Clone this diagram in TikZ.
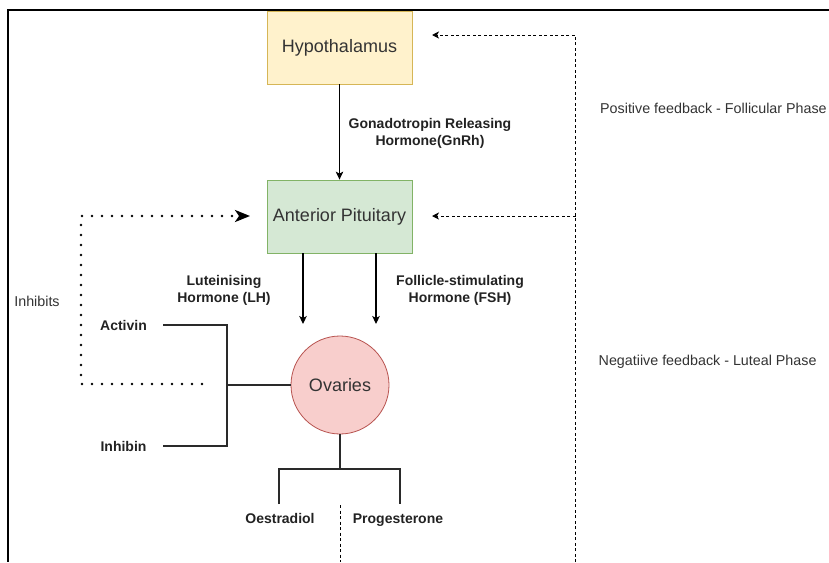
\documentclass[tikz,border=0pt]{standalone}
\usepackage{fontspec}
\setmainfont{Liberation Sans}
\usetikzlibrary{arrows.meta,calc}
\definecolor{hypfill}{HTML}{FFF2CC}
\definecolor{hypdraw}{HTML}{D6B656}
\definecolor{antfill}{HTML}{D5E8D4}
\definecolor{antdraw}{HTML}{82B366}
\definecolor{ovafill}{HTML}{F8CECC}
\definecolor{ovadraw}{HTML}{B85450}
\definecolor{txt}{HTML}{333333}
\definecolor{btxt}{HTML}{222222}
\definecolor{brkcol}{HTML}{2A2A2A}
\tikzset{
  box/.style={rectangle, minimum width=145pt, minimum height=73pt, inner sep=0pt,
    line width=0.8pt, text=txt, text height=13pt, text depth=4pt, font=\fontsize{18}{21}\selectfont},
  ovabox/.style={circle, minimum size=98pt, inner sep=0pt, line width=0.8pt,
    fill=ovafill, draw=ovadraw, text=txt, font=\fontsize{18}{21}\selectfont},
  blabel/.style={inner sep=0pt, align=center, text=btxt, font=\bfseries\fontsize{14}{17}\selectfont},
  rlabel/.style={inner sep=0pt, text=txt, font=\fontsize{14.3}{17}\selectfont},
  arr/.style={line width=1.1pt, draw=black, -{Stealth[length=8pt,width=7.5pt,inset=2pt]}},
  brk/.style={line width=2.4pt, draw=brkcol},
  fb/.style={line width=0.9pt, draw=black, dash pattern=on 3pt off 2.5pt},
  fbarr/.style={fb, -{Stealth[length=7pt,width=7pt,inset=2pt]}},
  inh/.style={line width=2.6pt, draw=black, line cap=round, dash pattern=on 0pt off 10pt,
    -{Stealth[length=15pt,width=12pt,inset=4pt]}},
  frame/.style={line width=1.3pt, draw=black}
}
\begin{document}
\begin{tikzpicture}[x=1pt,y=-1pt]
\useasboundingbox (0,0) rectangle (829,562);
\fill[white] (0,0) rectangle (829,562);
\draw[frame] (829,10) -- (8,10) -- (8,562);

% main nodes
\node[box, fill=hypfill, draw=hypdraw] (hyp) at (339.5,47.5) {Hypothalamus};
\node[box, fill=antfill, draw=antdraw] (ant) at (339.5,216.5) {Anterior Pituitary};
\node[ovabox] (ova) at (340,385) {Ovaries};

% labels
\node[blabel] (gnrh) at (430,133) {Gonadotropin Releasing\\Hormone(GnRh)};
\node[blabel] (lh) at (224,290) {Luteinising\\Hormone (LH)};
\node[blabel] (fsh) at (460,290) {Follicle-stimulating\\Hormone (FSH)};
\node[blabel] (activin) at (123.5,325) {Activin};
\node[blabel] (inhibin) at (123.5,446) {Inhibin};
\node[blabel, anchor=base] (oest) at (280,523) {Oestradiol};
\node[blabel, anchor=base] (prog) at (398,523) {Progesterone};
\node[rlabel] (inhibits) at (37,301) {Inhibits};
\node[rlabel, anchor=west] (pos) at (600,108) {Positive feedback - Follicular Phase};
\node[rlabel, anchor=west] (neg) at (598.5,361.5) {Negatiive feedback - Luteal Phase};

% coordinates
\coordinate (lhend) at (303,324);
\coordinate (fshend) at (376,324);
\coordinate (junc) at (227,385);
\coordinate (actl) at (163,325);
\coordinate (inhl) at (163,446);
\coordinate (split) at (340,469);
\coordinate (ol) at (279,504);
\coordinate (pl) at (400,504);
\coordinate (dtop) at (340,505);
\coordinate (dbot) at (340,562);
\coordinate (fbbot) at (575.5,562);
\coordinate (hyptip) at (432,35);
\coordinate (anttip) at (432,216);
\coordinate (dstart) at (202,384);
\coordinate (dcorner) at (81,216);
\coordinate (dtip) at (250,216);

% connectors
\draw[arr] (hyp) -- (ant);
\draw[arr] (ant.south -| lhend) -- (lhend);
\draw[arr] (ant.south -| fshend) -- (fshend);
\draw[brk] (actl) -| (junc) |- (inhl);
\draw[brk] (junc) -- (ova.west);
\draw[brk] (ova.south) -- (split);
\draw[brk] (ol) |- (split) -| (pl);
\draw[fb] (dtop) -- (dbot);
\draw[fbarr] (fbbot) |- (hyptip);
\draw[fbarr] (fbbot |- anttip) -- (anttip);
\draw[inh] (dstart) -| (dcorner) -- (dtip);
\end{tikzpicture}
\end{document}
